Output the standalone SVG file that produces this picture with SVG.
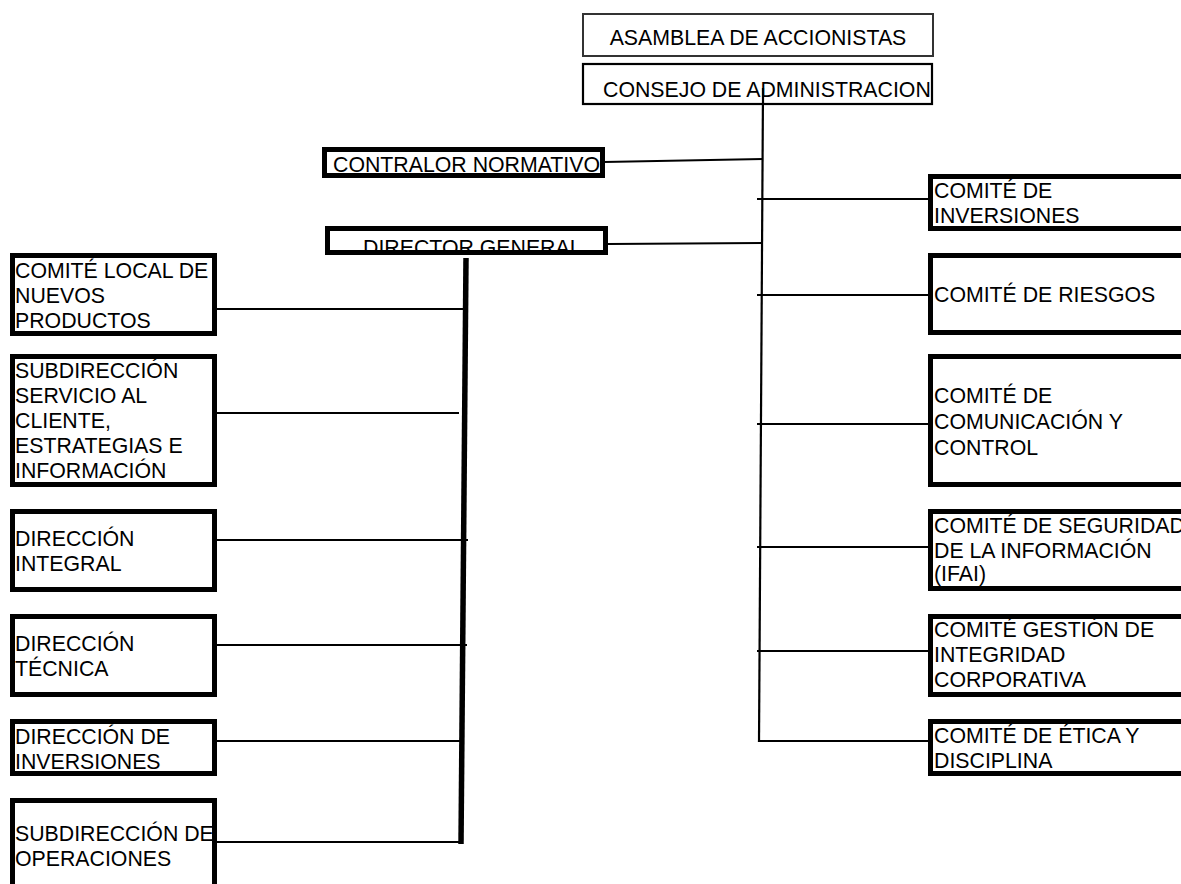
<svg xmlns="http://www.w3.org/2000/svg" width="1181" height="884" viewBox="0 0 1181 884">
<style>
text{font-family:"Liberation Sans",Arial,sans-serif;font-size:21.3px;fill:#000}
.bg{fill:#fff;stroke:none}
.b{fill:none;stroke:#000;stroke-width:5}
.thin{fill:none;stroke:#333;stroke-width:2}
.med{fill:none;stroke:#000;stroke-width:2.2}
.c{stroke:#000;stroke-width:2.2;fill:none}
.ct{stroke:#000;stroke-width:5.5;fill:none}
</style>
<rect width="1181" height="884" fill="#fff"/>
<g id="connectors">
<line class="c" x1="763" y1="90" x2="759" y2="742"/>
<line class="c" x1="604" y1="162" x2="763" y2="159"/>
<line class="c" x1="608" y1="244" x2="762" y2="243"/>
<line class="c" x1="757" y1="199" x2="929" y2="199"/>
<line class="c" x1="757" y1="295" x2="929" y2="295"/>
<line class="c" x1="757" y1="424" x2="929" y2="424"/>
<line class="c" x1="757" y1="547" x2="929" y2="547"/>
<line class="c" x1="757" y1="651" x2="929" y2="651"/>
<line class="c" x1="758" y1="741" x2="929" y2="741"/>
<line class="ct" x1="466" y1="258" x2="461" y2="844"/>
<line class="c" x1="215" y1="309" x2="466" y2="309"/>
<line class="c" x1="215" y1="413" x2="459" y2="413"/>
<line class="c" x1="215" y1="540" x2="468" y2="540"/>
<line class="c" x1="215" y1="645" x2="467" y2="645"/>
<line class="c" x1="215" y1="741" x2="462" y2="741"/>
<line class="c" x1="215" y1="842" x2="462" y2="842"/>
</g>
<g id="asamblea">
<rect class="bg" x="583" y="14" width="350" height="42"/>
<text x="758" y="45" text-anchor="middle">ASAMBLEA DE ACCIONISTAS</text>
<rect class="thin" x="583" y="14" width="350" height="42"/>
</g>
<g id="consejo">
<rect class="bg" x="583" y="64" width="349" height="40"/>
<text x="603" y="97">CONSEJO DE ADMINISTRACION</text>
<rect class="med" x="583" y="64" width="349" height="40"/>
<line class="c" x1="763" y1="88" x2="763" y2="104"/>
</g>
<g id="contralor">
<rect class="bg" x="324.5" y="149.5" width="278" height="26"/>
<text x="333" y="172">CONTRALOR NORMATIVO</text>
<rect class="b" x="324.5" y="149.5" width="278" height="26"/>
</g>
<g id="director">
<rect class="bg" x="327.5" y="228.5" width="278" height="24"/>
<text x="363" y="255">DIRECTOR GENERAL</text>
<rect class="b" x="327.5" y="228.5" width="278" height="24"/>
</g>
<g id="comite-local">
<rect class="bg" x="12.5" y="255.5" width="202" height="78"/>
<text x="15" y="278">COMITÉ LOCAL DE</text>
<text x="15" y="303">NUEVOS</text>
<text x="15" y="328">PRODUCTOS</text>
<rect class="b" x="12.5" y="255.5" width="202" height="78"/>
</g>
<g id="subdireccion-servicio">
<rect class="bg" x="12.5" y="356.5" width="202" height="128"/>
<text x="15" y="378">SUBDIRECCIÓN</text>
<text x="15" y="403">SERVICIO AL</text>
<text x="15" y="428">CLIENTE,</text>
<text x="15" y="453">ESTRATEGIAS E</text>
<text x="15" y="478">INFORMACIÓN</text>
<rect class="b" x="12.5" y="356.5" width="202" height="128"/>
</g>
<g id="direccion-integral">
<rect class="bg" x="12.5" y="511.5" width="202" height="78"/>
<text x="15" y="546">DIRECCIÓN</text>
<text x="15" y="571">INTEGRAL</text>
<rect class="b" x="12.5" y="511.5" width="202" height="78"/>
</g>
<g id="direccion-tecnica">
<rect class="bg" x="12.5" y="616.5" width="202" height="78"/>
<text x="15" y="651">DIRECCIÓN</text>
<text x="15" y="676">TÉCNICA</text>
<rect class="b" x="12.5" y="616.5" width="202" height="78"/>
</g>
<g id="direccion-inversiones">
<rect class="bg" x="12.5" y="721.5" width="202" height="52"/>
<text x="15" y="744">DIRECCIÓN DE</text>
<text x="15" y="769">INVERSIONES</text>
<rect class="b" x="12.5" y="721.5" width="202" height="52"/>
</g>
<g id="subdireccion-operaciones">
<rect class="bg" x="12.5" y="800.5" width="202" height="100"/>
<text x="15" y="841">SUBDIRECCIÓN DE</text>
<text x="15" y="866">OPERACIONES</text>
<rect class="b" x="12.5" y="800.5" width="202" height="100"/>
</g>
<g id="comite-inversiones">
<rect class="bg" x="930.5" y="176.5" width="300" height="52"/>
<text x="934" y="198">COMITÉ DE</text>
<text x="934" y="223">INVERSIONES</text>
<rect class="b" x="930.5" y="176.5" width="300" height="52"/>
</g>
<g id="comite-riesgos">
<rect class="bg" x="930.5" y="255.5" width="300" height="77"/>
<text x="934" y="302">COMITÉ DE RIESGOS</text>
<rect class="b" x="930.5" y="255.5" width="300" height="77"/>
</g>
<g id="comite-comunicacion">
<rect class="bg" x="930.5" y="356.5" width="300" height="128"/>
<text x="934" y="403">COMITÉ DE</text>
<text x="934" y="429">COMUNICACIÓN Y</text>
<text x="934" y="455">CONTROL</text>
<rect class="b" x="930.5" y="356.5" width="300" height="128"/>
</g>
<g id="comite-seguridad">
<rect class="bg" x="930.5" y="511.5" width="300" height="77"/>
<text x="934" y="533">COMITÉ DE SEGURIDAD</text>
<text x="934" y="558">DE LA INFORMACIÓN</text>
<text x="934" y="581">(IFAI)</text>
<rect class="b" x="930.5" y="511.5" width="300" height="77"/>
</g>
<g id="comite-gestion">
<rect class="bg" x="930.5" y="616.5" width="300" height="78"/>
<text x="934" y="637">COMITÉ GESTIÓN DE</text>
<text x="934" y="662">INTEGRIDAD</text>
<text x="934" y="687">CORPORATIVA</text>
<rect class="b" x="930.5" y="616.5" width="300" height="78"/>
</g>
<g id="comite-etica">
<rect class="bg" x="930.5" y="721.5" width="300" height="52"/>
<text x="934" y="743">COMITÉ DE ÉTICA Y</text>
<text x="934" y="768">DISCIPLINA</text>
<rect class="b" x="930.5" y="721.5" width="300" height="52"/>
</g>
</svg>
